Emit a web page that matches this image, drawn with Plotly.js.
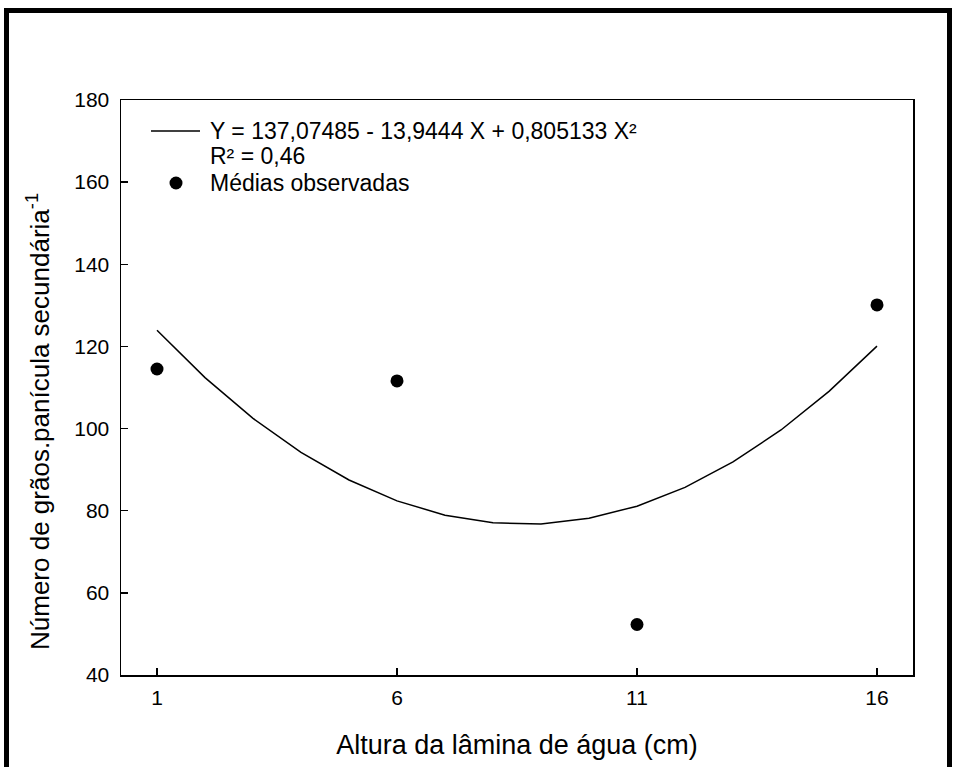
<!DOCTYPE html>
<html>
<head>
<meta charset="utf-8">
<script src="https://cdn.plot.ly/plotly-3.0.1.min.js"></script>
<style>
  html, body { margin: 0; padding: 0; background: #fff; }
  #wrap { position: relative; width: 954px; height: 767px; overflow: hidden; }
  #chart { width: 954px; height: 767px; }
  #frame { position: absolute; left: 4px; top: 8px; width: 938px; height: 800px;
           border-top: 5px solid #000; border-left: 5px solid #000; border-right: 5px solid #000;
           pointer-events: none; }
</style>
</head>
<body>
<div id="wrap">
  <div id="chart"></div>
  <div id="frame"></div>
</div>
<script>
// Observed means
const obsX = [1, 6, 11, 16];
const obsY = [114.5, 111.6, 52.3, 130.1];

// Fitted curve values (Y = 137,07485 - 13,9444 X + 0,805133 X²) at each water depth
const fitX = [1, 2, 3, 4, 5, 6, 7, 8, 9, 10, 11, 12, 13, 14, 15, 16];
const fitY = [123.94, 112.41, 102.49, 94.18, 87.48, 82.39, 78.92, 77.05,
              76.79, 78.14, 81.11, 85.68, 91.87, 99.66, 109.06, 120.08];

const xTicks = [1, 6, 11, 16];
const yTicks = [40, 60, 80, 100, 120, 140, 160, 180];

const fitLabel = 'Y = 137,07485 - 13,9444 X + 0,805133 X²';
const r2Label = 'R² = 0,46';
const obsLabel = 'Médias observadas';
const xTitle = 'Altura da lâmina de água (cm)';
const yTitle = 'Número de grãos.panícula secundária<sup>-1</sup>';

const FONT = 'Liberation Sans, Arial, sans-serif';

// plot-area geometry (pixels) used to place the hand-built legend
const M = { l: 121, r: 41, t: 100, b: 92 };
const PW = 954 - M.l - M.r, PH = 767 - M.t - M.b;
const px = x => (x - M.l) / PW;
const py = y => (767 - M.b - y) / PH;

const traces = [
  {
    x: fitX, y: fitY, type: 'scatter', mode: 'lines',
    name: fitLabel, showlegend: false,
    line: { color: '#000', width: 1.5 }
  },
  {
    x: obsX, y: obsY, type: 'scatter', mode: 'markers',
    name: obsLabel, showlegend: false,
    marker: { color: '#000', size: 13, symbol: 'circle' }
  }
];

const legFont = { family: FONT, size: 23, color: '#000' };

const layout = {
  width: 954, height: 767,
  margin: M,
  paper_bgcolor: '#fff', plot_bgcolor: '#fff',
  font: { family: FONT, color: '#000', size: 21 },
  showlegend: false,
  xaxis: {
    range: [0.25, 16.75],
    tickvals: xTicks, ticktext: xTicks.map(String),
    ticks: 'inside', ticklen: 7, tickwidth: 1.5, tickcolor: '#000',
    ticklabelstandoff: 3,
    showline: true, linecolor: '#000', linewidth: 1.5, mirror: true,
    showgrid: false, zeroline: false,
    tickfont: { family: FONT, size: 21, color: '#000' },
    title: { text: xTitle, font: { family: FONT, size: 27, color: '#000' }, standoff: 27 }
  },
  yaxis: {
    range: [40, 180],
    tickvals: yTicks, ticktext: yTicks.map(String),
    ticks: 'inside', ticklen: 7, tickwidth: 1.5, tickcolor: '#000',
    ticklabelstandoff: 6,
    showline: true, linecolor: '#000', linewidth: 1.5, mirror: true,
    showgrid: false, zeroline: false,
    tickfont: { family: FONT, size: 21, color: '#000' }
  },
  shapes: [
    { type: 'line', xref: 'paper', yref: 'paper', x0: px(151), x1: px(200), y0: py(131), y1: py(131),
      line: { color: '#000', width: 1.5 } },
    { type: 'circle', xref: 'paper', yref: 'paper', xsizemode: 'pixel', ysizemode: 'pixel',
      xanchor: px(176), yanchor: py(183), x0: -6.5, x1: 6.5, y0: -6.5, y1: 6.5,
      fillcolor: '#000', line: { width: 0 } }
  ],
  annotations: [
    { xref: 'paper', yref: 'paper', x: px(209), y: py(130), xanchor: 'left', yanchor: 'middle',
      text: fitLabel, showarrow: false, font: legFont, height: 23, borderpad: 0 },
    { xref: 'paper', yref: 'paper', x: px(209), y: py(155), xanchor: 'left', yanchor: 'middle',
      text: r2Label, showarrow: false, font: legFont, height: 23, borderpad: 0 },
    { xref: 'paper', yref: 'paper', x: px(209), y: py(182), xanchor: 'left', yanchor: 'middle',
      text: obsLabel, showarrow: false, font: legFont, height: 23, borderpad: 0 },
    { xref: 'paper', yref: 'paper', x: 0, xshift: 38 - M.l, y: py(422), xanchor: 'center', yanchor: 'middle',
      text: yTitle, textangle: -90, showarrow: false, font: { family: FONT, size: 26, color: '#000' } }
  ]
};

Plotly.newPlot('chart', traces, layout, { displayModeBar: false, staticPlot: true });
</script>
</body>
</html>
